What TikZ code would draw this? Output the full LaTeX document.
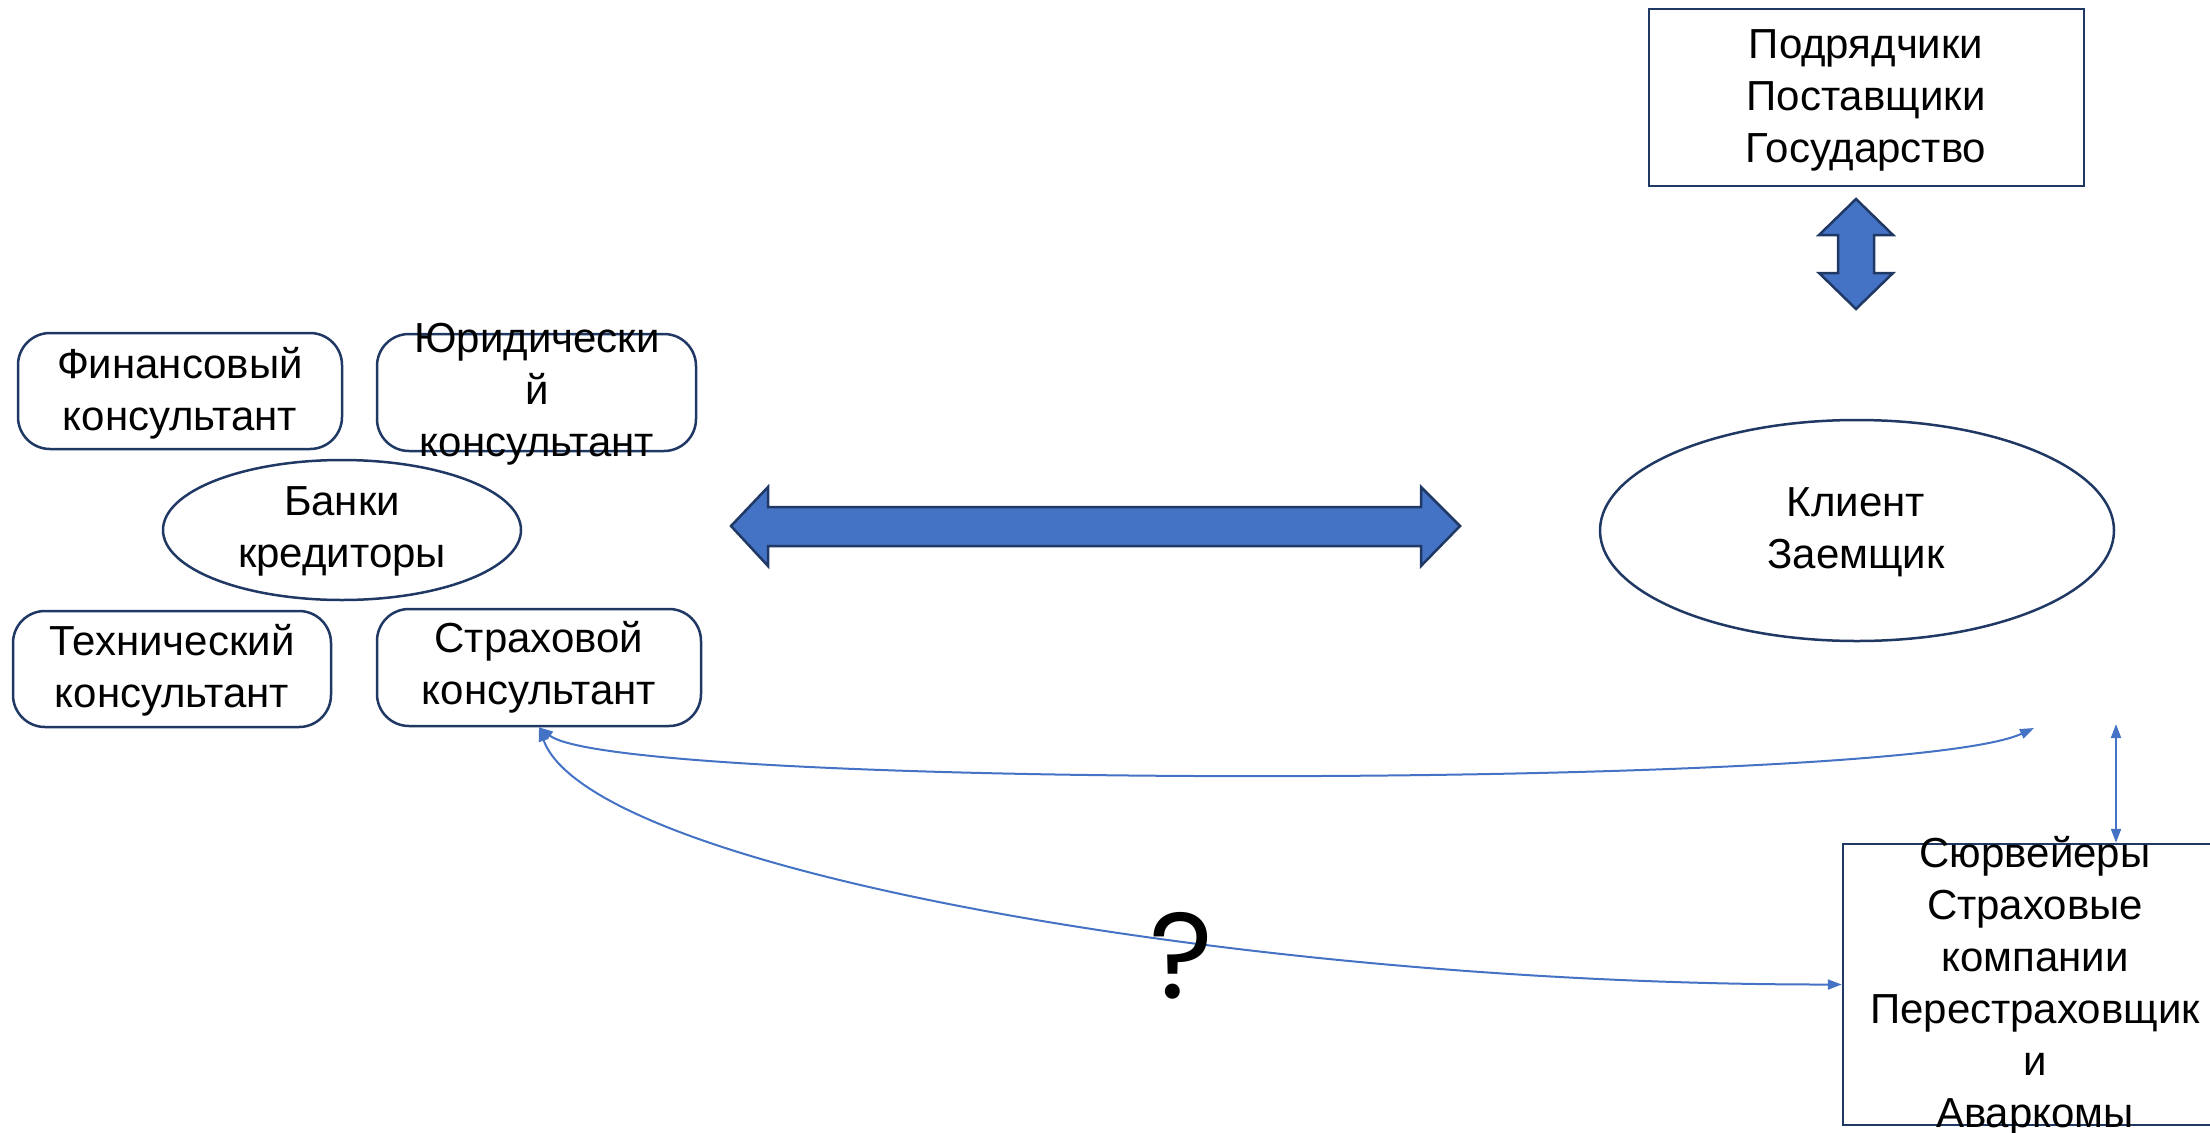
\documentclass[tikz,border=0pt]{standalone}
\usepackage{fontspec}
\setmainfont{Liberation Sans}
\newfontfamily\qfont{Poppins}
\usetikzlibrary{shapes.geometric,arrows.meta}
\definecolor{navy}{HTML}{203864}
\definecolor{accent}{HTML}{4472C4}
\begin{document}
\begin{tikzpicture}[x=1pt,y=-1pt,
  shapeline/.style={draw=navy,line width=2.5pt,inner sep=0pt,fill=white},
  rbox/.style={shapeline,rectangle,rounded corners=32pt},
  sbox/.style={shapeline,rectangle},
  oval/.style={shapeline,ellipse},
  txt/.style={align=center,inner sep=0pt,font=\fontsize{42}{52}\selectfont,
    execute at begin node=\strut,execute at end node=\strut},
  blockarrow/.style={fill=accent,draw=navy,line width=2.5pt,line join=miter},
  link/.style={draw=accent,line width=2pt,
    {Triangle[length=14pt,width=10pt]}-{Triangle[length=14pt,width=10pt]}}
]
\useasboundingbox (0,0) rectangle (2210,1132);
\clip (0,0) rectangle (2210,1132);

% shapes
\node[sbox,minimum width=435pt,minimum height=177pt] (supp) at (1866.5,97.5) {};
\node[rbox,minimum width=324pt,minimum height=116pt] (fin) at (180,391) {};
\node[rbox,minimum width=319pt,minimum height=117pt] (jur) at (536.5,392.5) {};
\node[oval,minimum width=358pt,minimum height=140pt] (bank) at (342,530) {};
\node[rbox,minimum width=318pt,minimum height=116pt] (tech) at (172,669) {};
\node[rbox,minimum width=324pt,minimum height=117pt] (ins) at (539,667.5) {};
\node[oval,minimum width=514pt,minimum height=221pt] (client) at (1857,530.5) {};
\node[sbox,minimum width=384pt,minimum height=281pt] (surv) at (2035,984.5) {};

% texts
\node[txt] (supptxt) at (1866,104) {Подрядчики\\Поставщики\\Государство};
\node[txt] (fintxt) at (180,397) {Финансовый\\консультант};
\node[txt] (jurtxt) at (537,398) {Юридически\\й\\консультант};
\node[txt] (banktxt) at (342,534.5) {Банки\\кредиторы};
\node[txt] (techtxt) at (172,673.5) {Технический\\консультант};
\node[txt] (instxt) at (539,670.5) {Страховой\\консультант};
\node[txt] (clienttxt) at (1856,535.5) {Клиент\\Заемщик};
\node[txt] (survtxt) at (2035,990) {Сюрвейеры\\Страховые\\компании\\Перестраховщик\\и\\Аваркомы};

% block arrows
\draw[blockarrow] (731,526) -- (768,487) -- (768,507) -- (1421,507) -- (1421,487)
  -- (1460,526) -- (1421,566) -- (1421,546) -- (768,546) -- (768,566) -- cycle;
\draw[blockarrow] (1856,199) -- (1893,235) -- (1874,235) -- (1874,273) -- (1893,273)
  -- (1856,309) -- (1819,273) -- (1838,273) -- (1838,235) -- (1819,235) -- cycle;

% thin connectors
\coordinate (c1end) at (2034,728);
\coordinate (vtop) at (2116,724);
\draw[link] (ins.south) .. controls (620,790) and (1900,790) .. (c1end);
\draw[link] (ins.south) .. controls (590,870) and (1250,985) .. (surv.west);
\draw[link] (vtop) -- (vtop |- surv.north);

\node[font=\qfont\fontsize{122}{122}\selectfont,anchor=base,inner sep=0pt] (q) at (1181,998) {?};
\end{tikzpicture}
\end{document}
